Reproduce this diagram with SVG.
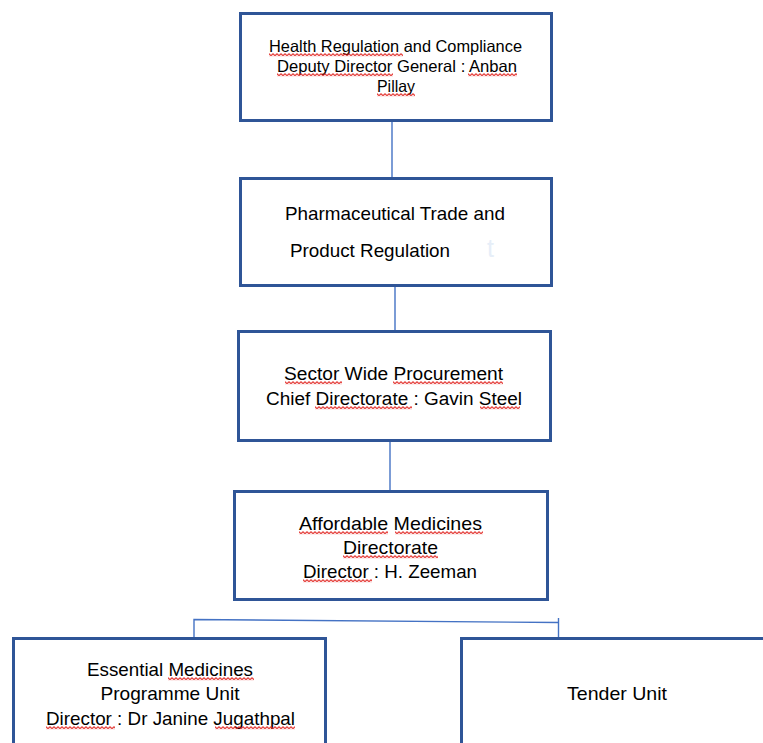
<svg xmlns="http://www.w3.org/2000/svg" width="763" height="743" viewBox="0 0 763 743">
<style>
.box{fill:#fff;stroke:#2F5597;stroke-width:3}
.con{fill:none;stroke:#4472C4;stroke-width:1.4}
text{font-family:"Liberation Sans",Arial,sans-serif;fill:#000;text-anchor:middle}
.wv{fill:url(#wave)}
</style>
<defs>
<pattern id="wave" patternUnits="userSpaceOnUse" width="4" height="3.4">
<path d="M0,0.7 L2,2.7 L4,0.7" fill="none" stroke="#E0201C" stroke-width="1.1"/>
</pattern>
</defs>
<rect width="763" height="743" fill="#fff"/>
<g id="connectors">
<line class="con" x1="392" y1="122" x2="392" y2="177"/>
<line class="con" x1="395" y1="287" x2="395" y2="330"/>
<line class="con" x1="390" y1="442" x2="390" y2="490"/>
<polyline class="con" points="194,637 194,619.5 558,622.5"/>
<line class="con" x1="558.5" y1="618" x2="558.5" y2="641"/>
</g>
<g id="n1">
<rect class="box" x="240.5" y="13.5" width="311" height="107"/>
<text x="395.5" y="52" font-size="16.5" textLength="253" lengthAdjust="spacingAndGlyphs">Health Regulation and Compliance</text>
<text x="397" y="72" font-size="16.5" textLength="240" lengthAdjust="spacingAndGlyphs">Deputy Director General : Anban</text>
<text x="396" y="92" font-size="16.5" textLength="38" lengthAdjust="spacingAndGlyphs">Pillay</text>
<rect class="wv" transform="translate(269,53)" width="134" height="3.4"/>
<rect class="wv" transform="translate(277,73)" width="116" height="3.4"/>
<rect class="wv" transform="translate(468,73)" width="49" height="3.4"/>
<rect class="wv" transform="translate(377,93)" width="38" height="3.4"/>
</g>
<g id="n2">
<rect class="box" x="240.5" y="178.5" width="311" height="107"/>
<text x="395" y="220" font-size="19" textLength="220" lengthAdjust="spacingAndGlyphs">Pharmaceutical Trade and</text>
<text x="290" y="257" font-size="19" textLength="160" lengthAdjust="spacingAndGlyphs" style="text-anchor:start">Product Regulation</text>
<text x="487" y="257" font-size="25" style="text-anchor:start;fill:#E6EEF8">t</text>
</g>
<g id="n3">
<rect class="box" x="238.5" y="331.5" width="312" height="109"/>
<text x="393.5" y="380" font-size="18" textLength="219" lengthAdjust="spacingAndGlyphs">Sector Wide Procurement</text>
<text x="394" y="405" font-size="18" textLength="256" lengthAdjust="spacingAndGlyphs">Chief Directorate : Gavin Steel</text>
<rect class="wv" transform="translate(285,381)" width="57" height="3.4"/>
<rect class="wv" transform="translate(393,381)" width="110" height="3.4"/>
<rect class="wv" transform="translate(315,406)" width="97" height="3.4"/>
<rect class="wv" transform="translate(480,406)" width="40" height="3.4"/>
</g>
<g id="n4">
<rect class="box" x="234.5" y="491.5" width="313" height="108"/>
<text x="390.5" y="530" font-size="19" textLength="183" lengthAdjust="spacingAndGlyphs">Affordable Medicines</text>
<text x="390.5" y="554" font-size="19" textLength="95" lengthAdjust="spacingAndGlyphs">Directorate</text>
<text x="390" y="578" font-size="19" textLength="174" lengthAdjust="spacingAndGlyphs">Director : H. Zeeman</text>
<rect class="wv" transform="translate(299,531)" width="89" height="3.4"/>
<rect class="wv" transform="translate(395,531)" width="88" height="3.4"/>
<rect class="wv" transform="translate(343,555)" width="95" height="3.4"/>
<rect class="wv" transform="translate(303,579)" width="69" height="3.4"/>
</g>
<g id="n5">
<rect class="box" x="13.5" y="638.5" width="312" height="120"/>
<text x="170" y="676" font-size="19" textLength="166" lengthAdjust="spacingAndGlyphs">Essential Medicines</text>
<text x="170" y="700" font-size="19" textLength="139" lengthAdjust="spacingAndGlyphs">Programme Unit</text>
<text x="170.5" y="725" font-size="19" textLength="249" lengthAdjust="spacingAndGlyphs">Director : Dr Janine Jugathpal</text>
<rect class="wv" transform="translate(168,677)" width="86" height="3.4"/>
<rect class="wv" transform="translate(46,726)" width="69" height="3.4"/>
<rect class="wv" transform="translate(215,726)" width="80" height="3.4"/>
</g>
<g id="n6">
<rect class="box" x="461.5" y="638.5" width="320" height="120"/>
<text x="617" y="700" font-size="19" textLength="100" lengthAdjust="spacingAndGlyphs">Tender Unit</text>
</g>
</svg>
